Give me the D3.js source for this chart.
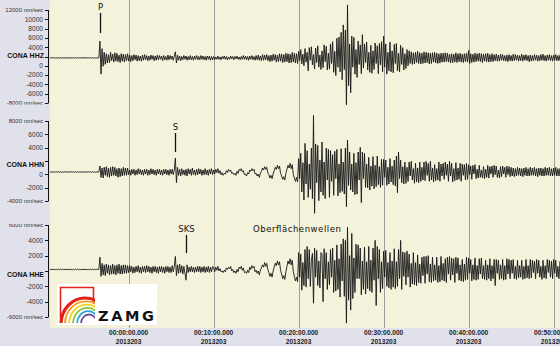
<!doctype html>
<html lang="de">
  <head>
    <meta charset="utf-8">
    <title>CONA - Seismogramm</title>
    <script src="https://cdn.jsdelivr.net/npm/d3@7"></script>
    <style>
      body { margin: 0; background: #e1e1eb; }
      svg { display: block; }
    </style>
  </head>
  <body>
    <svg width="560" height="346"></svg>
    <script>
      // stations and sampling (minutes after 00:00:00)
      var stations = ["CONA HHZ", "CONA HHN", "CONA HHE"];
      var tStart = -9.25, tStep = 0.125;
      var unit = 100;                // samples below are in 100 nm/sec
      var offsets = [1700, 350, 200];  // nm/sec

      var hhz = [0.3,-0.4,0.5,-0.2,0.4,-0.3,0.2,-0.5,0.3,-0.4,0.5,-0.3,0.2,-0.4,0.3,-0.5,0.4,-0.2,0.3,-0.4,
        0.2,-0.3,0.5,-0.4,0.3,-0.2,0.4,-0.5,0.3,-0.3,0.4,-0.2,0.5,-0.4,0.3,-0.3,0.2,-0.4,0.5,-0.3,
        0.3,-0.4,0.2,-0.5,0.3,-0.4,0.3,
        36,-35,20,-18,12,-14,
        9,-11,7,-10,12,-6,8,-9,11,-7,10,-8,6,-10,9,-7,8,-9,7,-6,9,
        -7,6,-8,5,-6,7,-4,6,-7,5,-6,4,-7,6,-5,7,-4,5,-6,4,-5,6,-3,5,-6,4,-5,6,-4,5,
        -3,4,-6,5,-4,3,-5,6,-4,5,-3,4,-5,4,
        13,-11,
        6,-5,4,-6,3,-4,5,-3,4,-5,3,-4,5,-4,3,-5,4,-3,5,-4,3,-4,5,-3,4,-4,3,-5,4,-3,4,-5,3,-4,
        3,-4,2,-3,4,-3,2,-4,3,-2,4,-3,3,-4,2,-3,4,-2,3,-4,3,-2,4,-3,2,-4,3,-3,5,-3,4,-4,3,-5,4,-3,5,-4,3,-5,
        5,-4,6,-5,4,-6,7,-5,6,-4,7,-6,5,-8,6,-7,8,-5,7,-9,6,-8,9,-7,8,-10,7,-9,10,-8,9,-11,8,-10,12,-9,10,-11,9,-12,
        14,-6,18,-13,8,-17,20,-9,12,-28,22,-5,24,-15,7,-24,21,-10,26,-20,6,-25,15,-21,28,-8,25,-26,10,-24,
        30,-12,35,-31,14,-38,42,-20,45,-30,55,-47,71,-25,60,-101,114,-60,30,-75,47,-20,44,-35,18,-42,
        36,-14,28,-34,50,-22,30,-10,34,-26,12,-31,27,-33,15,-25,32,-12,26,-34,31,-15,35,-30,
        47,-20,30,-35,12,-28,34,-30,15,-32,29,-12,31,-28,10,-30,27,-14,22,-26,9,-23,18,-17,
        15,-12,13,-14,11,-13,12,-10,14,-12,11,-13,10,-12,13,-11,12,-10,11,-13,10,-12,11,-9,12,-11,10,-12,9,-11,10,-9,
        10,-9,11,-8,10,-9,8,-11,9,-10,8,-9,11,-10,9,-8,10,-9,8,-10,9,-8,10,-9,
        16,-12,
        9,-10,8,-9,10,-8,9,-7,10,-8,9,-10,8,-7,9,-8,10,-9,7,-8,9,-8,
        7,-6,8,-7,6,-7,8,-5,7,-6,5,-7,6,-8,7,-6,5,-7,8,-6,7,-5,6,-7,5,-6,8,-7,6,-5,7,-6,5,-8,6,-7,5,-6,7,-5,
        6,-7,5,-6,7,-5,8,-6,5,-7,6,-5,7,-6,5,-7,6,-5,7,-6,5,-6,7];

      var hhn = [0.4,-0.3,0.2,-0.4,0.5,-0.3,0.3,-0.2,0.4,-0.5,0.3,-0.4,0.2,-0.3,0.5,-0.4,0.3,-0.2,0.4,-0.3,
        0.5,-0.2,0.3,-0.4,0.2,-0.5,0.4,-0.3,0.3,-0.4,0.2,-0.3,0.4,-0.5,0.3,-0.2,0.5,-0.4,0.3,-0.3,
        0.4,-0.3,0.2,-0.4,0.3,-0.3,0.4,
        9,-8,6,-9,7,-5,8,-7,6,-8,7,-6,8,-5,7,-6,5,-8,6,-7,5,-6,7,-5,6,-5,6,
        -4,3,-5,4,-3,4,-5,3,-4,5,-3,4,-4,3,-5,4,-3,4,-5,3,-4,5,-3,4,-4,3,-5,4,-3,4,
        -4,3,-5,4,-3,4,-4,3,-5,4,-3,4,-4,3,
        21,-16,
        7,-5,4,-6,5,-4,3,-5,4,-6,5,-3,4,-5,6,-4,3,-5,4,-4,5,-3,4,-5,3,-4,5,-4,3,-5,4,-3,5,-4,
        3,-3,4,-1,5,-2,2,-4,-1,-5,-2,-3,2,-1,4,1,3,-2,-1,-4,-2,-5,1,-2,4,2,5,0,2,-4,-3,-6,-1,-3,3,1,5,2,4,-3,
        -2,-6,-3,-8,-2,1,6,3,8,4,7,-1,-4,-9,-5,-10,-3,2,7,4,10,5,9,-2,-6,-11,-7,-12,-2,4,10,6,13,5,11,-4,-9,-14,-8,-15,
        20,-10,28,-30,14,-42,43,-18,32,-38,12,-26,36,-40,85,-62,42,-16,40,-43,18,-30,45,-35,15,-40,36,-12,34,-38,
        32,-14,26,-35,31,-10,34,-36,12,-31,35,-29,15,-33,36,-52,48,-20,30,-27,12,-30,28,-34,14,-33,
        30,-12,37,-46,30,-10,28,-23,12,-24,22,-27,9,-21,23,-25,10,-22,24,-19,8,-23,19,-20,
        19,-8,18,-20,7,-18,20,-15,9,-19,18,-21,24,-31,30,-10,18,-16,8,-18,15,-17,7,-14,
        15,-6,16,-12,5,-17,13,-15,6,-16,15,-14,7,-12,15,-13,16,-5,13,-14,16,-12,6,-15,11,-13,5,-12,15,-14,
        12,-6,13,-11,15,-5,12,-14,16,-6,13,-15,5,-13,14,-12,6,-11,13,-14,12,-5,11,-12,13,-11,
        11,-4,9,-11,10,-3,11,-10,4,-9,10,-8,3,-9,8,-10,4,-8,10,-9,8,-3,9,-8,10,-4,9,-8,3,-9,8,-7,9,-3,7,-8,9,-4,8,-7,
        7,-6,6,-7,5,-6,7,-5,6,-6,5,-7,6,-5,7,-6,5,-6,7,-5,6,-5,7,-6,5,-7,6,-5,6,-6,5,-6,7,-5,6,-5,7,-6,5,-6,
        6,-5,7,-6,5,-6,6];

      var hhe = [0.3,-0.2,0.4,-0.3,0.2,-0.4,0.3,-0.5,0.4,-0.2,0.3,-0.3,0.5,-0.4,0.2,-0.3,0.4,-0.2,0.3,-0.4,
        0.2,-0.5,0.3,-0.3,0.4,-0.2,0.5,-0.4,0.3,-0.3,0.2,-0.4,0.3,-0.2,0.4,-0.5,0.3,-0.3,0.2,-0.4,
        0.4,-0.3,0.3,-0.2,0.4,-0.3,0.3,
        16,-9,
        8,-7,6,-8,7,-5,6,-7,5,-6,7,-6,5,-7,6,-5,7,-6,5,-6,6,-5,6,-5,5,
        -4,5,-3,4,-5,3,-4,4,-3,5,-4,3,-5,4,-3,4,-4,5,-3,4,-4,3,-5,4,-3,4,-4,3,-5,4,
        -3,4,-4,3,-5,4,-3,4,-4,3,-4,5,-3,4,
        17,-8,
        6,-5,7,-4,5,-6,4,-5,
        -14,6,
        -4,3,-3,4,-3,3,-4,3,-3,4,-3,4,-4,3,-3,4,-4,3,-3,4,-4,3,-3,4,
        2,-3,3,-1,4,-2,1,-3,-2,-4,-1,-3,2,0,3,1,4,-2,0,-4,-2,-5,0,-3,3,1,4,-1,2,-4,-3,-5,-1,-4,3,0,5,2,4,-3,
        -1,-5,-2,-7,-1,2,6,3,9,4,8,0,-4,-9,-5,-10,-2,3,8,5,11,6,10,-1,-6,-12,-8,-13,-3,4,11,7,14,6,12,-3,-9,-15,-10,-16,
        22,-10,20,-27,9,-21,26,-23,30,-12,26,-22,12,21,-44,28,-10,25,-21,11,-24,22,20,-42,27,-12,22,-26,10,-20,
        26,-10,28,-30,12,-28,32,-26,14,-36,33,-15,40,-35,38,-70,55,-40,18,-53,47,-38,15,-30,33,-12,
        32,-12,28,-33,11,-26,29,-32,10,-25,30,-28,12,-30,28,-14,38,-47,30,-12,26,-30,10,-25,
        24,-10,25,-22,9,-24,22,-26,11,-23,27,-25,10,-22,26,-12,38,-26,23,-9,22,-20,24,-10,20,-23,8,-19,22,-20,
        9,-21,19,-17,7,-18,16,-8,17,-18,
        17,-6,18,-16,7,-17,16,-15,6,-14,16,-17,5,-16,17,-14,8,-15,14,-17,16,-6,17,-14,15,-7,14,-17,16,-5,
        15,-14,6,-15,13,-16,7,-14,16,-13,
        15,-5,13,-15,6,-13,15,-14,5,-13,14,-6,15,-12,5,-13,12,-14,6,-12,14,-15,5,-12,
        13,-21,
        13,-5,12,-13,6,-12,13,-14,5,-13,14,-6,13,-12,
        12,-5,13,-12,4,-13,12,-11,5,-10,12,-13,4,-12,13,-11,5,-12,13,-11,12,-4,11,-12,13,-5,12,-10,4,-13,
        12,-11,5,-12,13,-4,12,-10,11,-12,13,-5,12,-10,4,-12,11];

      var yDomains = [[-8000, 12000], [-4000, 8000], [-6000, 6000]];
      var yTicks = [
        [12000, 10000, 8000, 6000, 4000, 2000, 0, -2000, -4000, -6000, -8000],
        [8000, 6000, 4000, 2000, 0, -2000, -4000],
        [6000, 4000, 2000, 0, -2000, -4000, -6000]
      ];
      var hiddenTick = [2000, 2000, 0];
      var stationLabelAt = [2300, 1400, -400];

      var timeTicks = [0, 10, 20, 30, 40, 50];
      var timeLabels = ["00:00:00.000", "00:10:00.000", "00:20:00.000", "00:30:00.000", "00:40:00.000", "00:50:00.000"];
      var dateLabel = "2013203";

      var phases = ["P", "S", "SKS"];
      var phaseTimes = [-3.35, 5.45, 6.75];
      var surfaceLabel = "Oberflächenwellen";
      var surfaceTime = 19.8;

      var svg = d3.select("svg"),
          plot = {left: 50, right: 560, top: 0, bottom: 328},
          yRanges = [[103, 10], [201, 121], [317, 225]],
          panelClips = [[0, 104.5], [104.5, 224], [224, 328]];

      var x = d3.scaleLinear().domain([-9.25, 50.75]).range([plot.left, plot.right]);

      svg.append("rect").attr("width", 560).attr("height", 346).attr("fill", "#e1e1eb");
      svg.append("rect")
          .attr("x", plot.left).attr("y", plot.top)
          .attr("width", plot.right - plot.left).attr("height", plot.bottom - plot.top)
          .attr("fill", "#f4f2db");

      var defs = svg.append("defs");
      defs.append("clipPath").attr("id", "plotclip")
        .append("rect")
          .attr("x", plot.left).attr("y", plot.top)
          .attr("width", plot.right - plot.left).attr("height", plot.bottom - plot.top);
      panelClips.forEach(function(c, k) {
        defs.append("clipPath").attr("id", "panel" + k)
          .append("rect").attr("x", 0).attr("y", c[0]).attr("width", 50).attr("height", c[1] - c[0]);
      });

      // time grid
      svg.append("g").selectAll("line")
          .data(timeTicks)
        .enter().append("line")
          .attr("x1", function(d) { return Math.round(x(d)) + 0.5; })
          .attr("x2", function(d) { return Math.round(x(d)) + 0.5; })
          .attr("y1", plot.top).attr("y2", plot.bottom)
          .attr("stroke", "#9d9d9d").attr("stroke-width", 1);

      var timeAxis = svg.append("g").attr("font-family", "Liberation Sans, Arial, sans-serif")
          .attr("font-size", "6.6px").attr("font-weight", "bold").attr("fill", "#222")
          .attr("text-anchor", "middle");
      timeTicks.forEach(function(t, i) {
        timeAxis.append("text").attr("x", x(t)).attr("y", 334.5).text(timeLabels[i]);
        timeAxis.append("text").attr("x", x(t)).attr("y", 343.5).text(dateLabel);
      });

      // traces
      [hhz, hhn, hhe].forEach(function(data, k) {
        var y = d3.scaleLinear().domain(yDomains[k]).range(yRanges[k]);

        var axis = svg.append("g").attr("clip-path", "url(#panel" + k + ")");
        axis.append("line")
            .attr("x1", 48.5).attr("x2", 48.5)
            .attr("y1", y(yDomains[k][1])).attr("y2", y(yDomains[k][0]))
            .attr("stroke", "#111");
        yTicks[k].forEach(function(v, j) {
          axis.append("line")
              .attr("x1", 45).attr("x2", 48.5)
              .attr("y1", Math.round(y(v)) + 0.5).attr("y2", Math.round(y(v)) + 0.5)
              .attr("stroke", "#111");
          if (v === hiddenTick[k]) return;
          var last = (j === 0 || j === yTicks[k].length - 1);
          axis.append("text")
              .attr("x", 43).attr("y", y(v)).attr("dy", "0.35em")
              .attr("text-anchor", "end")
              .attr("font-family", "Liberation Sans, Arial, sans-serif")
              .attr("font-size", last ? "6px" : "6.6px")
              .attr("fill", "#333")
              .text(last ? v + " nm/sec" : v);
        });
        svg.append("text")
            .attr("x", 44).attr("y", y(stationLabelAt[k])).attr("dy", "0.35em")
            .attr("text-anchor", "end")
            .attr("font-family", "Liberation Sans, Arial, sans-serif")
            .attr("font-size", "7px").attr("font-weight", "bold")
            .attr("fill", "#111")
            .text(stations[k]);

        var line = d3.line()
            .x(function(d, i) { return x(tStart + i * tStep); })
            .y(function(d) { return y(d * unit + offsets[k]); });

        svg.append("path")
            .datum(data)
            .attr("clip-path", "url(#plotclip)")
            .attr("fill", "none")
            .attr("stroke", "#161616")
            .attr("stroke-width", 0.9)
            .attr("d", line);
      });

      // phase picks
      var picks = [
        {label: 0, ty: 7, y1: 13, y2: 33},
        {label: 1, ty: 127, y1: 133, y2: 152},
        {label: 2, ty: 229, y1: 235, y2: 253}
      ];
      picks.forEach(function(p) {
        var px = Math.round(x(phaseTimes[p.label])) + 0.5;
        svg.append("line")
            .attr("x1", px).attr("x2", px).attr("y1", p.y1).attr("y2", p.y2)
            .attr("stroke", "#111").attr("stroke-width", 1.3);
        svg.append("text")
            .attr("x", px).attr("y", p.ty).attr("dy", "0.35em")
            .attr("text-anchor", "middle")
            .attr("font-family", "DejaVu Sans, sans-serif").attr("font-size", "8.5px")
            .attr("fill", "#111")
            .text(phases[p.label]);
      });
      svg.append("text")
          .attr("x", x(surfaceTime)).attr("y", 229).attr("dy", "0.35em")
          .attr("text-anchor", "middle")
          .attr("font-family", "DejaVu Sans, sans-serif").attr("font-size", "8.5px")
          .attr("textLength", 88).attr("lengthAdjust", "spacing")
          .attr("fill", "#111")
          .text(surfaceLabel);

      // ZAMG logo
      var logo = svg.append("g");
      logo.append("rect").attr("x", 57).attr("y", 284).attr("width", 100).attr("height", 41).attr("fill", "#fff");
      defs.append("clipPath").attr("id", "logoclip")
        .append("rect").attr("x", 59).attr("y", 286).attr("width", 36).attr("height", 37);
      logo.append("path")
          .attr("d", "M60.5,318V287.5H93.5V303")
          .attr("fill", "none").attr("stroke", "#e2231a").attr("stroke-width", 1.6);
      var arcs = logo.append("g").attr("clip-path", "url(#logoclip)");
      var rainbow = ["#e2231a", "#f39a1e", "#f3d21b", "#8cc63f", "#29a3dc", "#6f4c9b"];
      rainbow.forEach(function(c, i) {
        var rx = 24 - i * 3.2, ry = 26 - i * 3.3, cx = 85 + i * 0.8, cy = 324;
        arcs.append("path")
            .attr("d", "M" + (cx - rx) + "," + cy + " A" + rx + "," + ry + " 0 0 1 " + (cx + rx) + "," + cy)
            .attr("fill", "none").attr("stroke", c)
            .attr("stroke-width", i === 0 ? 3.2 : 1.8);
      });
      logo.append("text")
          .attr("x", 98).attr("y", 321)
          .attr("font-family", "DejaVu Sans, sans-serif").attr("font-weight", "bold")
          .attr("font-size", "14.5px").attr("fill", "#111")
          .attr("textLength", 56).attr("lengthAdjust", "spacing")
          .text("ZAMG");
    </script>
  </body>
</html>
